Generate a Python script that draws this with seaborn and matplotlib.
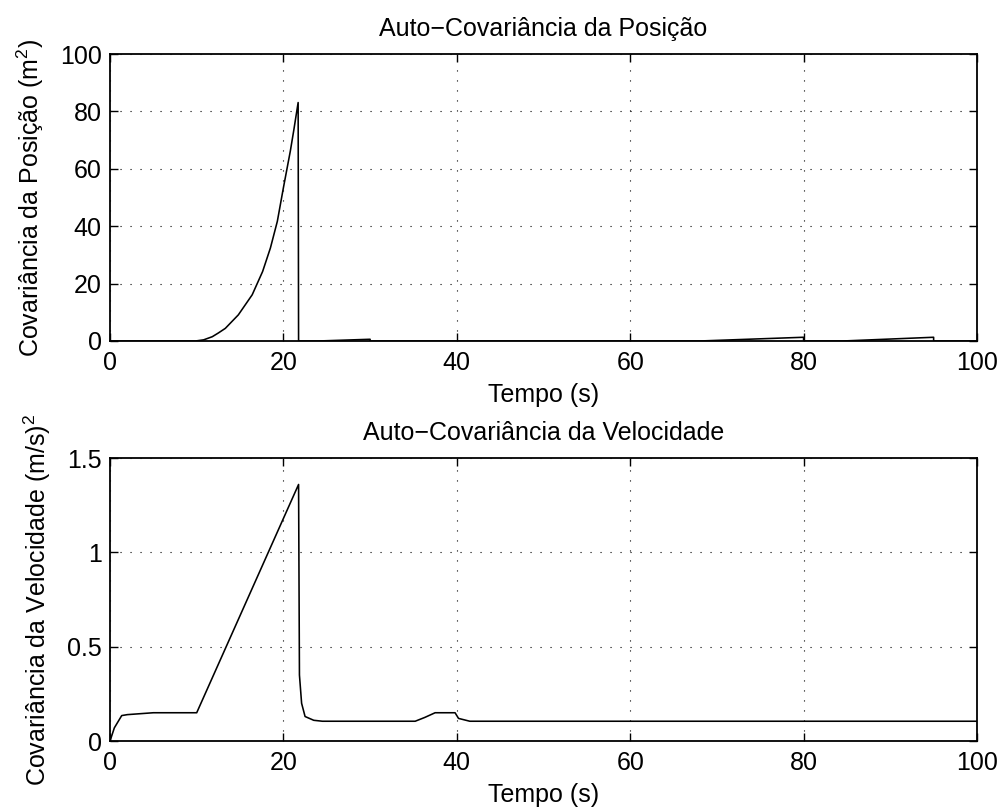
import matplotlib
matplotlib.use("Agg")
import matplotlib.pyplot as plt
import seaborn as sns
import pandas as pd

# ---- data ----
t_pos = [0, 9.86, 10.8, 11.8, 12.5, 13.3, 14.8, 16.4, 17.6, 18.5, 19.3, 20.0, 20.8, 21.2, 21.7, 21.75,
         24.0, 30.0, 30.0, 68.0, 80.0, 80.0, 84.5, 95.0, 95.0, 100.0]
cov_pos = [0, 0, 0.4, 1.5, 2.8, 4.4, 9.1, 16.1, 24.2, 32.4, 41.7, 53.4, 66.2, 73.5, 83.1, 0,
           0, 0.6, 0, 0, 1.3, 0, 0, 1.3, 0, 0]

t_vel = [0, 0.5, 1.35, 2.0, 5.0, 10.0, 21.75, 21.85, 22.1, 22.5, 23.5, 24.5,
         35.2, 36.3, 37.5, 39.8, 40.2, 41.5, 100.0]
cov_vel = [0, 0.07, 0.135, 0.14, 0.15, 0.15, 1.36, 0.35, 0.2, 0.13, 0.11, 0.105,
           0.105, 0.125, 0.15, 0.15, 0.12, 0.105, 0.105]

x_ticks = [0, 20, 40, 60, 80, 100]
y_ticks_pos = [0, 20, 40, 60, 80, 100]
y_ticks_vel = [0, 0.5, 1, 1.5]
y_ticklabels_vel = ["0", "0.5", "1", "1.5"]

title_pos = "Auto\u2212Covariância da Posição"
title_vel = "Auto\u2212Covariância da Velocidade"
ylabel_pos = r"Covariância da Posição (m$^2$)"
ylabel_vel = r"Covariância da Velocidade (m/s)$^2$"
xlabel = "Tempo (s)"

# ---- style ----
sns.set_style("ticks")
plt.rcParams["font.family"] = ["Liberation Sans", "DejaVu Sans"]
plt.rcParams["mathtext.fontset"] = "custom"
plt.rcParams["mathtext.rm"] = "Liberation Sans"
plt.rcParams["mathtext.it"] = "Liberation Sans:italic"
plt.rcParams["mathtext.default"] = "regular"
plt.rcParams["text.color"] = "black"
plt.rcParams["axes.labelcolor"] = "black"

FS = 18

fig = plt.figure(figsize=(10.01, 8.09), dpi=100)
ax1 = fig.add_axes([0.1099, 0.5785, 0.8661, 0.3547])
ax2 = fig.add_axes([0.1099, 0.0840, 0.8661, 0.3498])

df_pos = pd.DataFrame({"t": t_pos, "c": cov_pos})
df_vel = pd.DataFrame({"t": t_vel, "c": cov_vel})

sns.lineplot(data=df_pos, x="t", y="c", ax=ax1, color="black", linewidth=1.15,
             estimator=None, sort=False)
sns.lineplot(data=df_vel, x="t", y="c", ax=ax2, color="black", linewidth=1.15,
             estimator=None, sort=False)

for ax, yt, ytl, title, yl in [
    (ax1, y_ticks_pos, [str(v) for v in y_ticks_pos], title_pos, ylabel_pos),
    (ax2, y_ticks_vel, y_ticklabels_vel, title_vel, ylabel_vel),
]:
    ax.set_xlim(0, 100)
    ax.set_ylim(yt[0], yt[-1])
    ax.set_xticks(x_ticks)
    ax.set_xticklabels([str(v) for v in x_ticks])
    ax.set_yticks(yt)
    ax.set_yticklabels(ytl)
    ax.grid(True, color="black", linestyle=(0, (1, 8)), linewidth=0.8)
    ax.tick_params(direction="in", length=6, width=1.0, top=True, right=True,
                   labelsize=FS, colors="black")
    ax.tick_params(axis="x", pad=7)
    ax.tick_params(axis="y", pad=6)
    for s in ax.spines.values():
        s.set_visible(True)
        s.set_linewidth(1.3)
        s.set_color("black")
    ax.set_title(title, fontsize=FS, pad=13, color="black")
    ax.set_xlabel(xlabel, fontsize=FS, labelpad=6)
    ax.set_ylabel(yl, fontsize=FS, labelpad=10)

fig.savefig("out.png", dpi=100, facecolor="white")
